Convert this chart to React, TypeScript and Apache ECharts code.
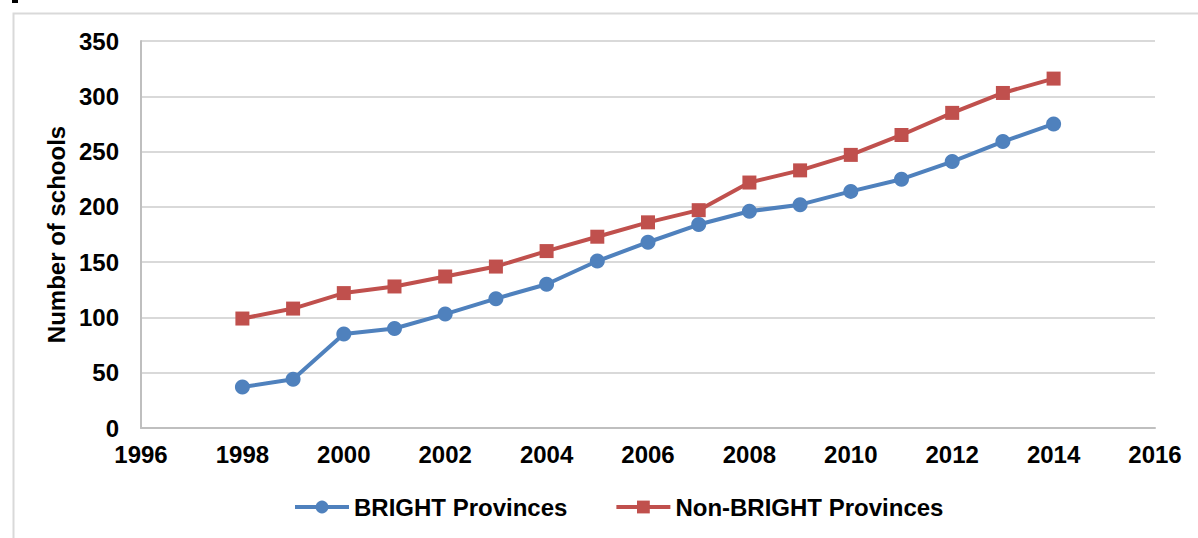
import React, { useEffect, useRef } from "react";
import * as echarts from "echarts";

const years = [1998, 1999, 2000, 2001, 2002, 2003, 2004, 2005, 2006, 2007, 2008, 2009, 2010, 2011, 2012, 2013, 2014];
const brightValues = [37, 44, 85, 90, 103, 117, 130, 151, 168, 184, 196, 202, 214, 225, 241, 259, 275];
const nonBrightValues = [99, 108, 122, 128, 137, 146, 160, 173, 186, 197, 222, 233, 247, 265, 285, 303, 316];
const seriesNames = ["BRIGHT Provinces", "Non-BRIGHT Provinces"];
const yAxisTitle = "Number of schools";

const FONT = "'Liberation Sans', Arial, sans-serif";

export default function App() {
  const ref = useRef<HTMLDivElement>(null);
  useEffect(() => {
    if (!ref.current) return;
    const chart = echarts.init(ref.current, undefined, { renderer: "svg" });
    const pairs = (vals: number[]) => years.map((y, i) => [y, vals[i]]);
    chart.setOption({
      animation: false,
      backgroundColor: "#ffffff",
      textStyle: { fontFamily: FONT },
      graphic: [
        {
          type: "rect",
          left: 11,
          top: 11,
          shape: { x: 0, y: 0, width: 1200, height: 540 },
          style: { fill: "none", stroke: "#d9d9d9", lineWidth: 2 },
          silent: true,
        },
        {
          type: "rect",
          shape: { x: 12, y: 0, width: 6, height: 3 },
          style: { fill: "#000000" },
          silent: true,
        },
      ],
      grid: { left: 141, right: 43, top: 41, bottom: 110, containLabel: false },
      legend: {
        left: 288,
        top: 490,
        itemWidth: 54,
        itemHeight: 16,
        itemGap: 47,
        lineStyle: { width: 4 },
        textStyle: { fontSize: 24, fontWeight: "bold", color: "#000000", fontFamily: FONT },
        data: seriesNames,
      },
      xAxis: {
        type: "value",
        min: 1996,
        max: 2016,
        interval: 2,
        axisLine: { show: true, lineStyle: { color: "#bfbfbf", width: 2 } },
        axisTick: { show: false },
        splitLine: { show: false },
        axisLabel: {
          fontSize: 24,
          fontWeight: "bold",
          color: "#000000",
          margin: 14,
          fontFamily: FONT,
          formatter: (v: number) => String(v),
        },
      },
      yAxis: {
        type: "value",
        min: 0,
        max: 350,
        interval: 50,
        name: yAxisTitle,
        nameLocation: "middle",
        nameGap: 73,
        nameTextStyle: { fontSize: 24, fontWeight: "bold", color: "#000000", fontFamily: FONT },
        axisLine: { show: true, lineStyle: { color: "#bfbfbf", width: 2 } },
        axisTick: { show: false },
        splitLine: { show: true, lineStyle: { color: "#d9d9d9", width: 2 } },
        axisLabel: {
          fontSize: 24,
          fontWeight: "bold",
          color: "#000000",
          margin: 22,
          fontFamily: FONT,
        },
      },
      series: [
        {
          name: seriesNames[0],
          type: "line",
          data: pairs(brightValues),
          symbol: "circle",
          symbolSize: 15,
          lineStyle: { color: "#4f81bd", width: 4 },
          itemStyle: { color: "#4f81bd" },
          z: 3,
        },
        {
          name: seriesNames[1],
          type: "line",
          data: pairs(nonBrightValues),
          symbol: "rect",
          symbolSize: 14,
          lineStyle: { color: "#c0504d", width: 4 },
          itemStyle: { color: "#c0504d" },
          z: 2,
        },
      ],
    });
    return () => chart.dispose();
  }, []);
  return (
    <div
      ref={ref}
      style={{ position: "absolute", left: 0, top: 0, width: 1198, height: 538, background: "#fff" }}
    />
  );
}
